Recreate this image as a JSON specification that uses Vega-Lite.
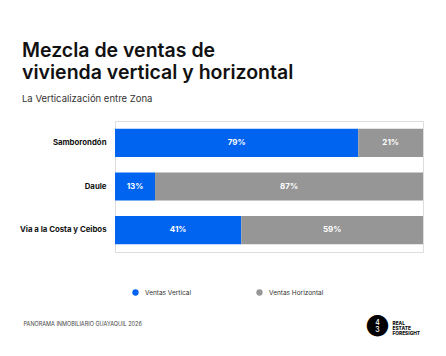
{
  "$schema": "https://vega.github.io/schema/vega-lite/v6.json",
  "autosize": "none",
  "width": 308,
  "height": 131,
  "padding": {"left": 115, "top": 121, "right": 23, "bottom": 104},
  "background": "#ffffff",
  "title": {
    "text": ["Mezcla de ventas de", "vivienda vertical y horizontal"],
    "subtitle": "La Verticalización entre Zona",
    "anchor": "start",
    "frame": "group",
    "dx": -93,
    "offset": 17,
    "font": "Inter",
    "fontSize": 19.5,
    "fontWeight": 600,
    "lineHeight": 22,
    "color": "#111111",
    "subtitleFont": "Inter",
    "subtitleFontSize": 9.5,
    "subtitleColor": "#333333",
    "subtitlePadding": 10
  },
  "data": {
    "values": [
      {"zona": "Samborondón", "tipo": "Ventas Vertical", "orden": 1, "share": 0.79},
      {"zona": "Samborondón", "tipo": "Ventas Horizontal", "orden": 2, "share": 0.21},
      {"zona": "Daule", "tipo": "Ventas Vertical", "orden": 1, "share": 0.13},
      {"zona": "Daule", "tipo": "Ventas Horizontal", "orden": 2, "share": 0.87},
      {"zona": "Via a la Costa y Ceibos", "tipo": "Ventas Vertical", "orden": 1, "share": 0.41},
      {"zona": "Via a la Costa y Ceibos", "tipo": "Ventas Horizontal", "orden": 2, "share": 0.59}
    ]
  },
  "transform": [
    {"stack": "share", "groupby": ["zona"], "sort": [{"field": "orden", "order": "ascending"}], "as": ["inicio", "fin"]},
    {"calculate": "(datum.inicio + datum.fin) / 2", "as": "centro"}
  ],
  "resolve": {"axis": {"x": "independent", "y": "independent"}},
  "layer": [
    {
      "mark": {"type": "bar"},
      "encoding": {
        "y": {
          "field": "zona",
          "type": "nominal",
          "sort": ["Samborondón", "Daule", "Via a la Costa y Ceibos"],
          "scale": {"paddingInner": 0.356, "paddingOuter": 0.178},
          "axis": {
            "orient": "left",
            "title": ["REAL", "ESTATE", "FORESIGHT"],
            "titleAngle": 0,
            "titleX": 277,
            "titleY": 199,
            "titleAlign": "left",
            "titleBaseline": "top",
            "titleFont": "Inter",
            "titleFontSize": 4.8,
            "titleFontWeight": 800,
            "titleLineHeight": 5.2,
            "titleColor": "#111111",
            "domain": false,
            "ticks": false,
            "labelPadding": 9,
            "labelFont": "Inter",
            "labelFontSize": 7.8,
            "labelFontWeight": 700,
            "labelColor": "#111111"
          }
        },
        "x": {
          "field": "inicio",
          "type": "quantitative",
          "scale": {"domain": [0, 1], "nice": false},
          "axis": {
            "orient": "bottom",
            "title": "PANORAMA INMOBILIARIO GUAYAQUIL 2026",
            "titleX": -92,
            "titleY": 73,
            "titleAlign": "left",
            "titleAnchor": null,
            "titleBaseline": "alphabetic",
            "titleFont": "Inter",
            "titleFontSize": 5.5,
            "titleFontWeight": 400,
            "titleColor": "#444444",
            "labels": false,
            "ticks": false,
            "domain": false,
            "grid": false
          }
        },
        "x2": {"field": "fin"},
        "color": {
          "field": "tipo",
          "type": "nominal",
          "scale": {"domain": ["Ventas Vertical", "Ventas Horizontal"], "range": ["#0064F0", "#969696"]},
          "legend": {
            "title": null,
            "orient": "none",
            "legendX": 17,
            "legendY": 168,
            "direction": "horizontal",
            "symbolType": "circle",
            "symbolSize": 40,
            "symbolStrokeWidth": 0,
            "labelFont": "Inter",
            "labelFontSize": 6.5,
            "labelColor": "#333333",
            "labelOffset": 6,
            "columnPadding": 64
          }
        }
      }
    },
    {
      "mark": {"type": "text", "color": "#ffffff", "font": "Inter", "fontSize": 8, "fontWeight": 700, "baseline": "middle"},
      "encoding": {
        "y": {
          "field": "zona",
          "type": "nominal",
          "sort": ["Samborondón", "Daule", "Via a la Costa y Ceibos"],
          "axis": {
            "orient": "right",
            "title": ["4", "3"],
            "titleAngle": 0,
            "titleX": -46,
            "titleY": 201,
            "titleAlign": "center",
            "titleBaseline": "middle",
            "titleFont": "Inter",
            "titleFontSize": 7,
            "titleFontWeight": 500,
            "titleLineHeight": 7.5,
            "titleColor": "#ffffff",
            "labels": false,
            "ticks": false,
            "domain": false,
            "grid": false
          }
        },
        "x": {
          "field": "centro",
          "type": "quantitative",
          "axis": {
            "orient": "top",
            "title": "●",
            "titleX": 262,
            "titleY": 203,
            "titleAlign": "center",
            "titleBaseline": "middle",
            "titleFont": "DejaVu Sans",
            "titleFontSize": 28,
            "titleFontWeight": 400,
            "titleColor": "#000000",
            "labels": false,
            "ticks": false,
            "domain": false,
            "grid": false
          }
        },
        "text": {"field": "share", "type": "quantitative", "format": ".0%"}
      }
    }
  ]
}
